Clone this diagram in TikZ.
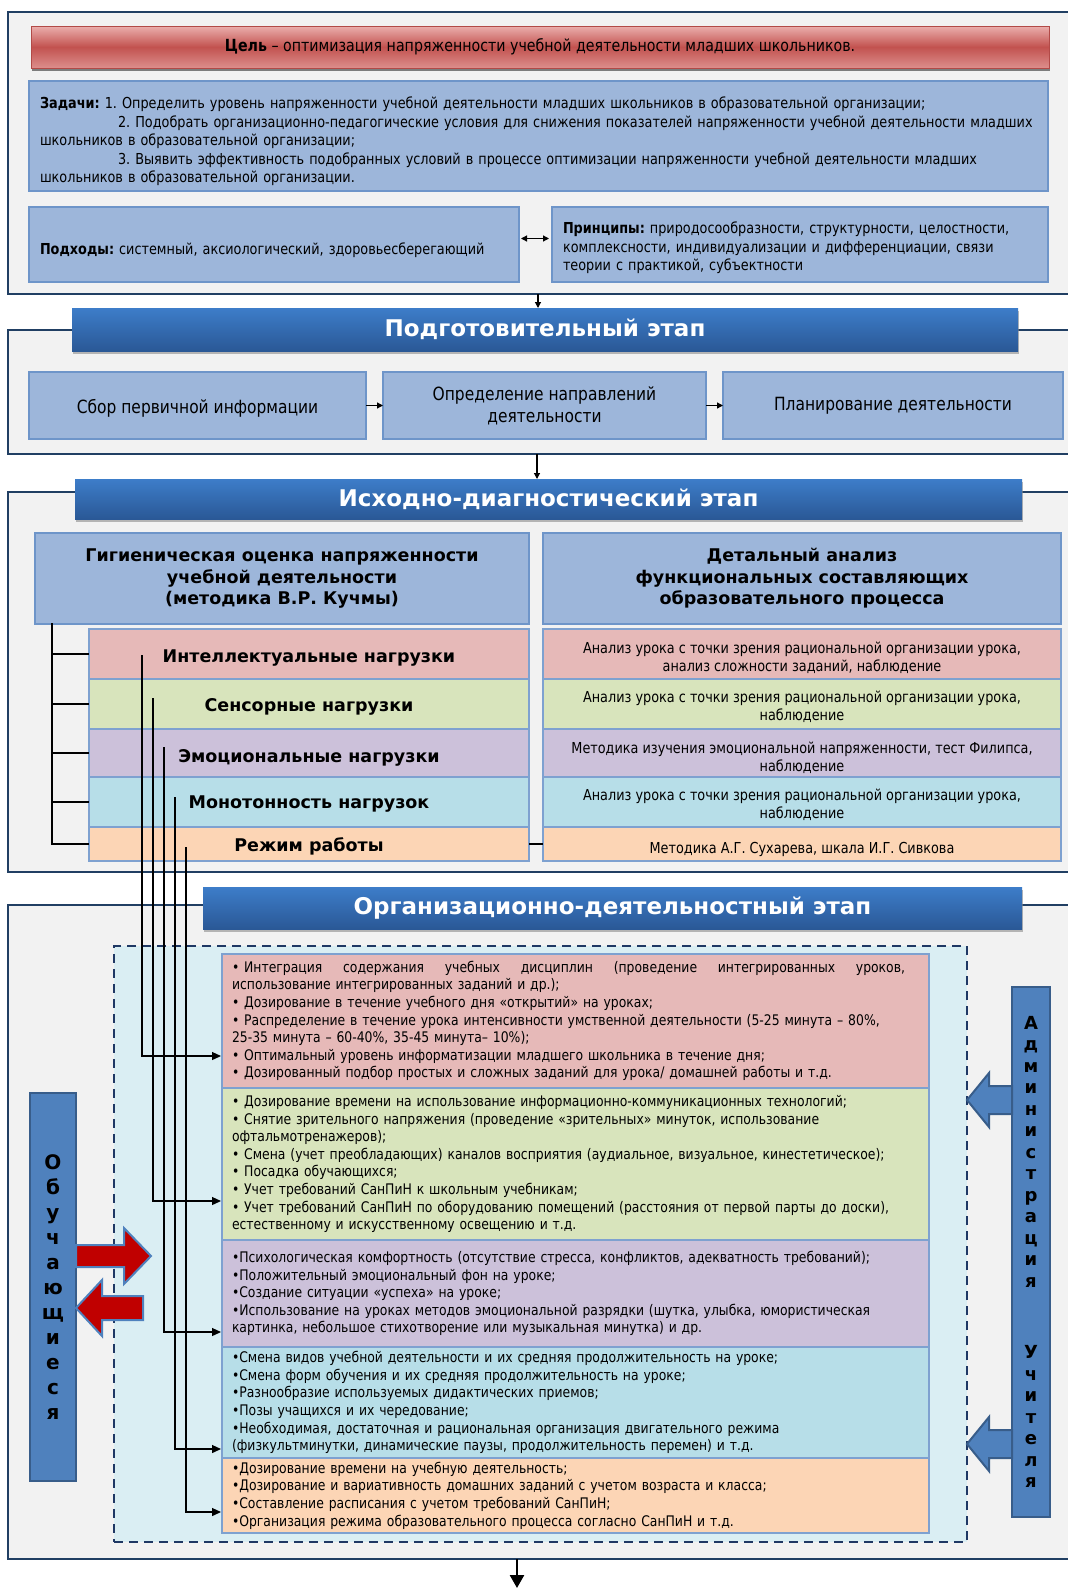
\documentclass[tikz,border=0pt]{standalone}
\usepackage{fontspec}
\setmainfont{DejaVu Sans}
\newfontfamily\cfont{DejaVu Sans}[FakeStretch=0.85]
\usetikzlibrary{arrows.meta,shadows}
\frenchspacing
\definecolor{frameC}{HTML}{213F63}
\definecolor{frameBg}{HTML}{F2F2F2}
\definecolor{bbFill}{HTML}{9DB6DA}
\definecolor{bbBorder}{HTML}{6E95C9}
\definecolor{hdrTop}{HTML}{3D7DC9}
\definecolor{hdrBot}{HTML}{2A5896}
\definecolor{celTop}{HTML}{EBAFAD}
\definecolor{celMid}{HTML}{C2524F}
\definecolor{celBot}{HTML}{DC8E8C}
\definecolor{celBorder}{HTML}{B24A47}
\definecolor{rowBorder}{HTML}{7EA1D0}
\definecolor{cPink}{HTML}{E6B9B8}
\definecolor{cGreen}{HTML}{D8E4BC}
\definecolor{cPurple}{HTML}{CCC1DA}
\definecolor{cBlue}{HTML}{B7DEE8}
\definecolor{cOrange}{HTML}{FCD5B5}
\definecolor{dashFill}{HTML}{DAEEF3}
\definecolor{dashC}{HTML}{1F3864}
\definecolor{sideFill}{HTML}{4F81BD}
\definecolor{sideBorder}{HTML}{385D8A}
\definecolor{redArrow}{HTML}{C00000}
\newcommand\fTop{\cfont\fontsize{15.1}{18.5}\selectfont}
\newcommand\fGoal{\cfont\fontsize{16.7}{20}\selectfont}
\newcommand\fPrep{\cfont\fontsize{18.2}{22}\selectfont}
\newcommand\fHdr{\fontsize{23}{27}\selectfont\bfseries}
\newcommand\fHead{\fontsize{17.5}{21.5}\selectfont\bfseries}
\newcommand\fRow{\cfont\fontsize{15.1}{17.7}\selectfont}
\newcommand\fOrg{\cfont\fontsize{14.6}{17.6}\selectfont}
\newcommand\fSideA{\fontsize{20}{25}\selectfont\bfseries}
\newcommand\fSideB{\fontsize{18}{21.5}\selectfont\bfseries}
\begin{document}
\begin{tikzpicture}[x=1pt,y=-1pt,
  every node/.style={inner sep=0pt,outer sep=0pt},
  frm/.style={draw=frameC,line width=2.5pt,fill=frameBg,anchor=north west,minimum width=1090pt},
  goalbar/.style={shade,top color=celTop,bottom color=celBot,middle color=celMid,draw=celBorder,line width=1pt,
    font=\fGoal,drop shadow={shadow xshift=1pt,shadow yshift=-3pt,fill=black!70,opacity=0.7}},
  hdr/.style={shade,top color=hdrTop,bottom color=hdrBot,text=white,font=\fHdr,
    drop shadow={shadow xshift=1pt,shadow yshift=-3pt,fill=black!45,opacity=0.6}},
  bbox/.style={draw=bbBorder,line width=2pt,fill=bbFill},
  txtbox/.style={bbox,align=left,font=\fTop,inner xsep=11pt},
  prepbox/.style={bbox,align=center,font=\fPrep,minimum height=67pt},
  row/.style={draw=rowBorder,line width=2pt},
  lrow/.style={row,minimum width=440pt},
  rrow/.style={row,minimum width=518pt},
  ltxt/.style={font=\fHead},
  rtxt/.style={font=\fRow,align=center},
  obox/.style={draw=rowBorder,line width=2.5pt,text width=687pt,align=left,inner xsep=10pt,font=\fOrg,minimum width=707pt},
  side/.style={draw=sideBorder,fill=sideFill,line width=2pt,align=center},
  line/.style={draw=black,line width=1.2pt},
  conn/.style={draw=black,line width=1.2pt,-{Triangle[length=6pt,width=6pt]}},
  conn2/.style={draw=black,line width=1.3pt,-{Triangle[length=9pt,width=8pt]},shorten >=1pt}]
\useasboundingbox (0,0) rectangle (1068,1588);
\clip (0,0) rectangle (1068,1588);
\fill[white] (0,0) rectangle (1068,1588);
% frames
\node[frm,minimum height=282pt] (F1) at (8,12) {};
\node[frm,minimum height=124pt] (F2) at (8,330) {};
\node[frm,minimum height=380pt] (F3) at (8,492) {};
\node[frm,minimum height=654pt] (F4) at (8,905) {};
% goal and tasks
\node[goalbar,minimum width=1018pt,minimum height=42pt] (goal) at (540,47)
  {\textbf{Цель} – оптимизация напряженности учебной деятельности младших школьников.};
\node[txtbox,minimum width=1019pt,minimum height=110pt,text width=997pt] (tasks) at (538.5,136)
  {\rule{0pt}{23pt}\textbf{Задачи:} 1. Определить уровень напряженности учебной деятельности младших школьников в образовательной организации;\\
  \hspace*{78pt}2. Подобрать организационно-педагогические условия для снижения показателей напряженности учебной деятельности младших\\
  школьников в образовательной организации;\\
  \hspace*{78pt}3. Выявить эффективность подобранных условий в процессе оптимизации напряженности учебной деятельности младших\\
  школьников в образовательной организации.};
\node[txtbox,minimum width=490pt,minimum height=75pt,text width=468pt] (appr) at (274,244.5)
  {\rule{0pt}{24pt}\textbf{Подходы:} системный, аксиологический, здоровьесберегающий};
\node[txtbox,minimum width=496pt,minimum height=75pt,text width=474pt] (princ) at (800,244.5)
  {\rule{0pt}{19pt}\textbf{Принципы:} природосообразности, структурности, целостности,\\
  комплексности, индивидуализации и дифференциации, связи\\
  теории с практикой, субъектности};
\draw[line width=1.2pt,{Triangle[length=6pt,width=6pt]}-{Triangle[length=6pt,width=6pt]},shorten <=2pt,shorten >=3pt] ([yshift=6pt]appr.east) -- ([yshift=6pt]princ.west);
% stage headers
\node[hdr,minimum width=946pt,minimum height=43pt] (P1) at (545,329.5) {Подготовительный этап};
\node[hdr,minimum width=947pt,minimum height=40pt] (P2) at (548.5,499) {Исходно-диагностический этап};
\node[hdr,minimum width=819pt,minimum height=42pt] (P3) at (612.5,908) {Организационно-деятельностный этап};
\coordinate (a1) at (538,294);
\draw[conn] (a1) -- (a1 |- P1.north);
% preparatory
\node[prepbox,minimum width=337pt] (b1) at (197.5,405.5) {\rule{0pt}{20pt}Сбор первичной информации};
\node[prepbox,minimum width=323pt] (b2) at (544.5,405.5) {Определение направлений\\деятельности};
\node[prepbox,minimum width=340pt] (b3) at (893,405.5) {Планирование деятельности};
\draw[conn] (b1) -- (b2);
\draw[conn] (b2) -- (b3);
\coordinate (a2) at (537,454);
\draw[conn] (a2) -- (a2 |- P2.north);
% diagnostic
\node[bbox,minimum width=494pt,minimum height=91pt,align=center,font=\fHead] (g) at (282,578.5)
  {Гигиеническая оценка напряженности\\учебной деятельности\\(методика В.Р. Кучмы)};
\node[bbox,minimum width=518pt,minimum height=91pt,align=center,font=\fHead] (d) at (802,578.5)
  {Детальный анализ\\функциональных составляющих\\образовательного процесса};
\node[lrow,fill=cPink,minimum height=50pt] (r1) at (309,654) {};
\node[lrow,fill=cGreen,minimum height=50pt] (r2) at (309,704) {};
\node[lrow,fill=cPurple,minimum height=48pt] (r3) at (309,753) {};
\node[lrow,fill=cBlue,minimum height=50pt] (r4) at (309,802) {};
\node[lrow,fill=cOrange,minimum height=34pt] (r5) at (309,844) {};
\node[ltxt] (r1t) at ([yshift=-4pt]r1.center) {Интеллектуальные нагрузки};
\node[ltxt] (r2t) at ([yshift=-3pt]r2.center) {Сенсорные нагрузки};
\node[ltxt] (r3t) at ([yshift=-5pt]r3.center) {Эмоциональные нагрузки};
\node[ltxt] (r4t) at ([yshift=-2pt]r4.center) {Монотонность нагрузок};
\node[ltxt] (r5t) at ([yshift=-2pt]r5.center) {Режим работы};
\node[rrow,fill=cPink,minimum height=50pt] (q1) at (802,654) {};
\node[rrow,fill=cGreen,minimum height=50pt] (q2) at (802,704) {};
\node[rrow,fill=cPurple,minimum height=48pt] (q3) at (802,753) {};
\node[rrow,fill=cBlue,minimum height=50pt] (q4) at (802,802) {};
\node[rrow,fill=cOrange,minimum height=34pt] (q5) at (802,844) {};
\node[rtxt] (q1t) at ([yshift=-4pt]q1.center)
  {Анализ урока с точки зрения рациональной организации урока,\\анализ сложности заданий, наблюдение};
\node[rtxt] (q2t) at ([yshift=-3pt]q2.center)
  {Анализ урока с точки зрения рациональной организации урока,\\наблюдение};
\node[rtxt] (q3t) at ([yshift=-5pt]q3.center)
  {Методика изучения эмоциональной напряженности, тест Филипса,\\наблюдение};
\node[rtxt] (q4t) at ([yshift=-3pt]q4.center)
  {Анализ урока с точки зрения рациональной организации урока,\\наблюдение};
\node[rtxt] (q5t) at ([yshift=-5pt]q5.center)
  {Методика А.Г. Сухарева, шкала И.Г. Сивкова};
\coordinate (t0) at (52,623);
\draw[line] (t0) |- (r5.west);
\foreach \r in {r1,r2,r3,r4} \draw[line] (t0 |- \r.west) -- (\r.west);
\draw[line] (r5.east) -- (q5.west);
% organisational
\node[draw=dashC,fill=dashFill,line width=2.5pt,dash pattern=on 9pt off 6pt,minimum width=853pt,minimum height=596pt] (dbox) at (540.5,1244) {};
\node[obox,fill=cPink,minimum height=134pt] (c1) at (575.5,1021)
  {\makebox[673pt][l]{•~Интеграция\hfill содержания\hfill учебных\hfill дисциплин\hfill (проведение\hfill интегрированных\hfill уроков,}\\
  использование интегрированных заданий и др.);\\
  • Дозирование в течение учебного дня «открытий» на уроках;\\
  • Распределение в течение урока интенсивности умственной деятельности (5-25 минута – 80\%,\\
  25-35 минута – 60-40\%, 35-45 минута– 10\%);\\
  • Оптимальный уровень информатизации младшего школьника в течение дня;\\
  • Дозированный подбор простых и сложных заданий для урока/ домашней работы и т.д.};
\node[obox,fill=cGreen,minimum height=152pt] (c2) at (575.5,1164)
  {• Дозирование времени на использование информационно-коммуникационных технологий;\\
  • Снятие зрительного напряжения (проведение «зрительных» минуток, использование\\
  офтальмотренажеров);\\
  • Смена (учет преобладающих) каналов восприятия (аудиальное, визуальное, кинестетическое);\\
  • Посадка обучающихся;\\
  • Учет требований СанПиН к школьным учебникам;\\
  • Учет требований СанПиН по оборудованию помещений (расстояния от первой парты до доски),\\
  естественному и искусственному освещению и т.д.};
\node[obox,fill=cPurple,minimum height=107pt] (c3) at (575.5,1293.5)
  {•Психологическая комфортность (отсутствие стресса, конфликтов, адекватность требований);\\
  •Положительный эмоциональный фон на уроке;\\
  •Создание ситуации «успеха» на уроке;\\
  •Использование на уроках методов эмоциональной разрядки (шутка, улыбка, юмористическая\\
  картинка, небольшое стихотворение или музыкальная минутка) и др.};
\node[obox,fill=cBlue,minimum height=111pt] (c4) at (575.5,1402.5)
  {•Смена видов учебной деятельности и их средняя продолжительность на уроке;\\
  •Смена форм обучения и их средняя продолжительность на уроке;\\
  •Разнообразие используемых дидактических приемов;\\
  •Позы учащихся и их чередование;\\
  •Необходимая, достаточная и рациональная организация двигательного режима\\
  (физкультминутки, динамические паузы, продолжительность перемен) и т.д.};
\node[obox,fill=cOrange,minimum height=75pt] (c5) at (575.5,1495.5)
  {•Дозирование времени на учебную деятельность;\\
  •Дозирование и вариативность домашних заданий с учетом возраста и класса;\\
  •Составление расписания с учетом требований СанПиН;\\
  •Организация режима образовательного процесса согласно СанПиН и т.д.};
% side bars
\node[side,minimum width=46pt,minimum height=388pt,font=\fSideA] (stu) at (53,1287)
  {О\\б\\у\\ч\\а\\ю\\щ\\и\\е\\с\\я};
\node[side,minimum width=38pt,minimum height=530pt,font=\fSideB] (adm) at (1031,1252)
  {А\\д\\м\\и\\н\\и\\с\\т\\р\\а\\ц\\и\\я\\[50pt]У\\ч\\и\\т\\е\\л\\я};
\filldraw[fill=redArrow,draw=sideFill,line width=2pt]
  (76,1245) -- (124,1245) -- (124,1228) -- (151,1256) -- (124,1284) -- (124,1267) -- (76,1267) -- cycle;
\filldraw[fill=redArrow,draw=sideFill,line width=2pt]
  (143,1296) -- (102,1296) -- (102,1280) -- (76,1308) -- (102,1336) -- (102,1320) -- (143,1320) -- cycle;
\filldraw[fill=sideFill,draw=sideBorder,line width=2pt]
  (1012,1086) -- (989,1086) -- (989,1073) -- (967,1100) -- (989,1127) -- (989,1114) -- (1012,1114) -- cycle;
\filldraw[fill=sideFill,draw=sideBorder,line width=2pt]
  (1012,1430) -- (989,1430) -- (989,1417) -- (967,1444) -- (989,1471) -- (989,1458) -- (1012,1458) -- cycle;
% connectors from load rows to measures
\coordinate (s1) at (142,655);
\coordinate (s2) at (153,698);
\coordinate (s3) at (164,747);
\coordinate (s4) at (175,797);
\coordinate (s5) at (186,847);
\coordinate (y1) at (0,1056);
\coordinate (y2) at (0,1201);
\coordinate (y3) at (0,1332);
\coordinate (y4) at (0,1449);
\coordinate (y5) at (0,1512);
\draw[conn2] (s1) |- (c1.west |- y1);
\draw[conn2] (s2) |- (c2.west |- y2);
\draw[conn2] (s3) |- (c3.west |- y3);
\draw[conn2] (s4) |- (c4.west |- y4);
\draw[conn2] (s5) |- (c5.west |- y5);
% final arrow
\coordinate (a3) at (517,1588);
\draw[line width=2.5pt,-{Triangle[length=13pt,width=14pt]}] (a3 |- F4.south) -- (a3);
\end{tikzpicture}
\end{document}
